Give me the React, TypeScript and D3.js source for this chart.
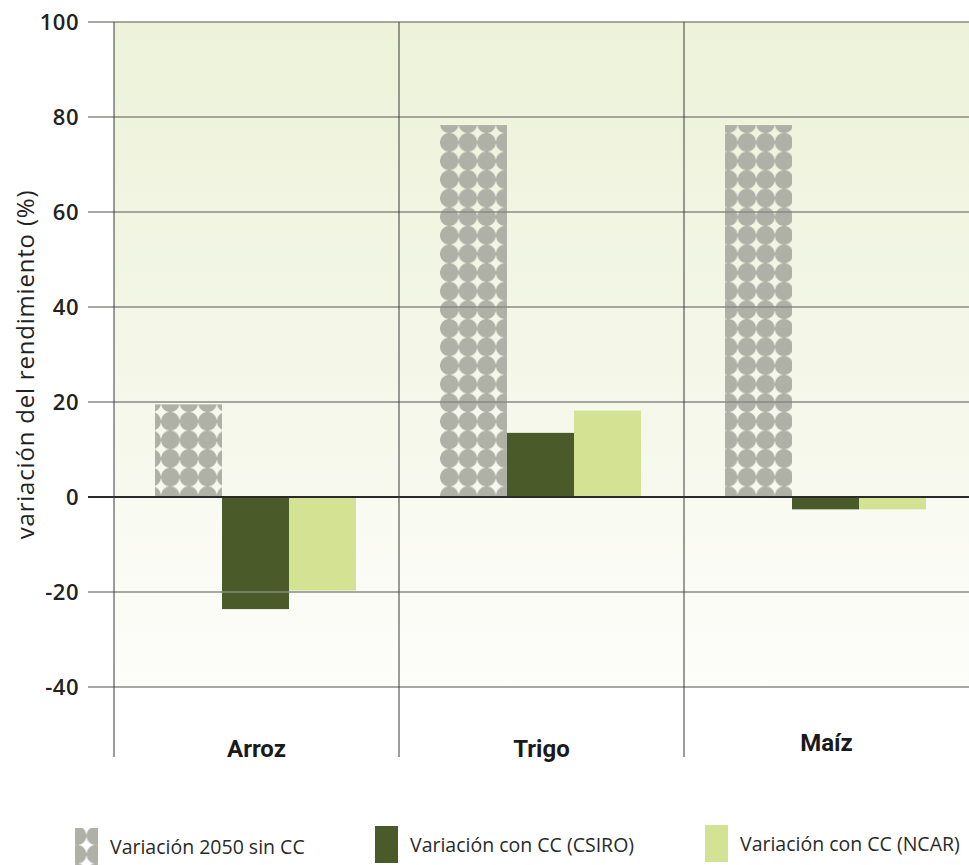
import { useEffect, useRef } from "react";
import * as d3 from "d3";

const crops = ["Arroz", "Trigo", "Maíz"];
const series = ["Variación 2050 sin CC", "Variación con CC (CSIRO)", "Variación con CC (NCAR)"];
const sinCC = [19.5, 78.3, 78.3];
const csiro = [-23.6, 13.5, -2.6];
const ncar = [-19.7, 18.2, -2.6];
const yTicks = [100, 80, 60, 40, 20, 0, -20, -40];

const W = 969;
const H = 865;

function App() {
  const ref = useRef<SVGSVGElement | null>(null);

  useEffect(() => {
    const svg = d3.select(ref.current);
    svg.selectAll("*").remove();

    const y = d3.scaleLinear().domain([-40, 100]).range([687, 22]);
    const x = d3.scaleBand<string>().domain(crops).range([114, 969]).padding(0);
    const xs = d3.scaleBand<string>().domain(series).range([41, 242]).padding(0);
    const colors = ["url(#dots)", "#4a5a28", "#d4e393"];
    const values = [sinCC, csiro, ncar];

    const defs = svg.append("defs");
    const posGrad = defs.append("linearGradient").attr("id", "pos").attr("x1", 0).attr("x2", 0).attr("y1", 0).attr("y2", 1);
    posGrad.append("stop").attr("offset", 0).attr("stop-color", "#edf2d9");
    posGrad.append("stop").attr("offset", 1).attr("stop-color", "#f7f9ee");
    const negGrad = defs.append("linearGradient").attr("id", "neg").attr("x1", 0).attr("x2", 0).attr("y1", 0).attr("y2", 1);
    negGrad.append("stop").attr("offset", 0).attr("stop-color", "#f9faf1");
    negGrad.append("stop").attr("offset", 1).attr("stop-color", "#fdfdfa");

    // dotted pattern: touching circles leave four-point stars at the corners
    const pitch = 18.6;
    const r = 9.35;
    const pat = defs.append("pattern").attr("id", "dots").attr("patternUnits", "userSpaceOnUse")
      .attr("x", 161).attr("y", 133).attr("width", pitch).attr("height", pitch);
    pat.append("circle").attr("cx", pitch / 2).attr("cy", pitch / 2).attr("r", r).attr("fill", "#afb1a7");
    const lpat = defs.append("pattern").attr("id", "ldots").attr("patternUnits", "userSpaceOnUse")
      .attr("x", 86.5).attr("y", 845).attr("width", pitch).attr("height", pitch);
    lpat.append("circle").attr("cx", pitch / 2).attr("cy", pitch / 2).attr("r", r).attr("fill", "#afb1a7");

    // background
    svg.append("rect").attr("x", 114).attr("y", y(100)).attr("width", W - 114).attr("height", y(0) - y(100)).attr("fill", "url(#pos)");
    svg.append("rect").attr("x", 114).attr("y", y(0)).attr("width", W - 114).attr("height", y(-40) - y(0)).attr("fill", "url(#neg)");

    // bars
    crops.forEach((c, i) => {
      values.forEach((vals, s) => {
        const v = vals[i];
        svg.append("rect")
          .attr("x", (x(c) ?? 0) + (xs(series[s]) ?? 0))
          .attr("y", y(Math.max(0, v)))
          .attr("width", xs.bandwidth())
          .attr("height", Math.abs(y(v) - y(0)))
          .attr("fill", colors[s]);
      });
    });

    // grid
    svg.append("g").selectAll("line").data(yTicks).join("line")
      .attr("x1", 88).attr("x2", W)
      .attr("y1", (d) => y(d)).attr("y2", (d) => y(d))
      .attr("stroke", (d) => (d === 0 ? "#2a2a2a" : "#8a8a86"))
      .attr("stroke-width", (d) => (d === 0 ? 2 : 1.5));

    svg.append("g").selectAll("line").data(crops).join("line")
      .attr("x1", (d) => x(d) ?? 0).attr("x2", (d) => x(d) ?? 0)
      .attr("y1", y(100)).attr("y2", 757)
      .attr("stroke", "#3a3a3a").attr("stroke-width", 1);

    svg.append("g").selectAll("text").data(yTicks).join("text")
      .attr("x", 79).attr("y", (d) => y(d) + 8)
      .attr("text-anchor", "end")
      .attr("font-family", "'Open Sans', sans-serif")
      .attr("font-size", 22).attr("font-weight", 600).attr("fill", "#222")
      .attr("letter-spacing", 0.5)
      .text((d) => d);

    svg.append("text")
      .attr("transform", `translate(34,${(y(100) + y(-40)) / 2 + 10}) rotate(-90)`)
      .attr("text-anchor", "middle")
      .attr("font-family", "'Open Sans', sans-serif")
      .attr("font-size", 24).attr("fill", "#222")
      .attr("letter-spacing", 0.8)
      .text("variación del rendimiento (%)");

    svg.append("g").selectAll("text").data(crops).join("text")
      .attr("x", (d) => (x(d) ?? 0) + x.bandwidth() / 2)
      .attr("y", (d, i) => (i === 2 ? 751 : 757))
      .attr("text-anchor", "middle")
      .attr("font-family", "'Liberation Sans Narrow', 'Roboto', sans-serif")
      .attr("font-weight", 700).attr("font-size", 24).attr("fill", "#1a1a1a")
      .text((d) => d);

    // legend
    const legX = [75, 375, 705];
    const legY = [828, 826, 825];
    const legFill = ["url(#ldots)", "#4a5a28", "#d4e393"];
    series.forEach((s, i) => {
      svg.append("rect").attr("x", legX[i]).attr("y", legY[i]).attr("width", 23).attr("height", 37).attr("fill", legFill[i]);
      svg.append("text")
        .attr("x", legX[i] + 35).attr("y", legY[i] + 26)
        .attr("font-family", "'Open Sans', sans-serif")
        .attr("font-size", 19.5).attr("fill", "#2a2a2a")
        .text(s);
    });
  }, []);

  return (
    <div style={{ position: "absolute", left: 0, top: 0 }}>
      <svg ref={ref} width={W} height={H} style={{ display: "block", background: "#fff" }} />
    </div>
  );
}

export default App;
